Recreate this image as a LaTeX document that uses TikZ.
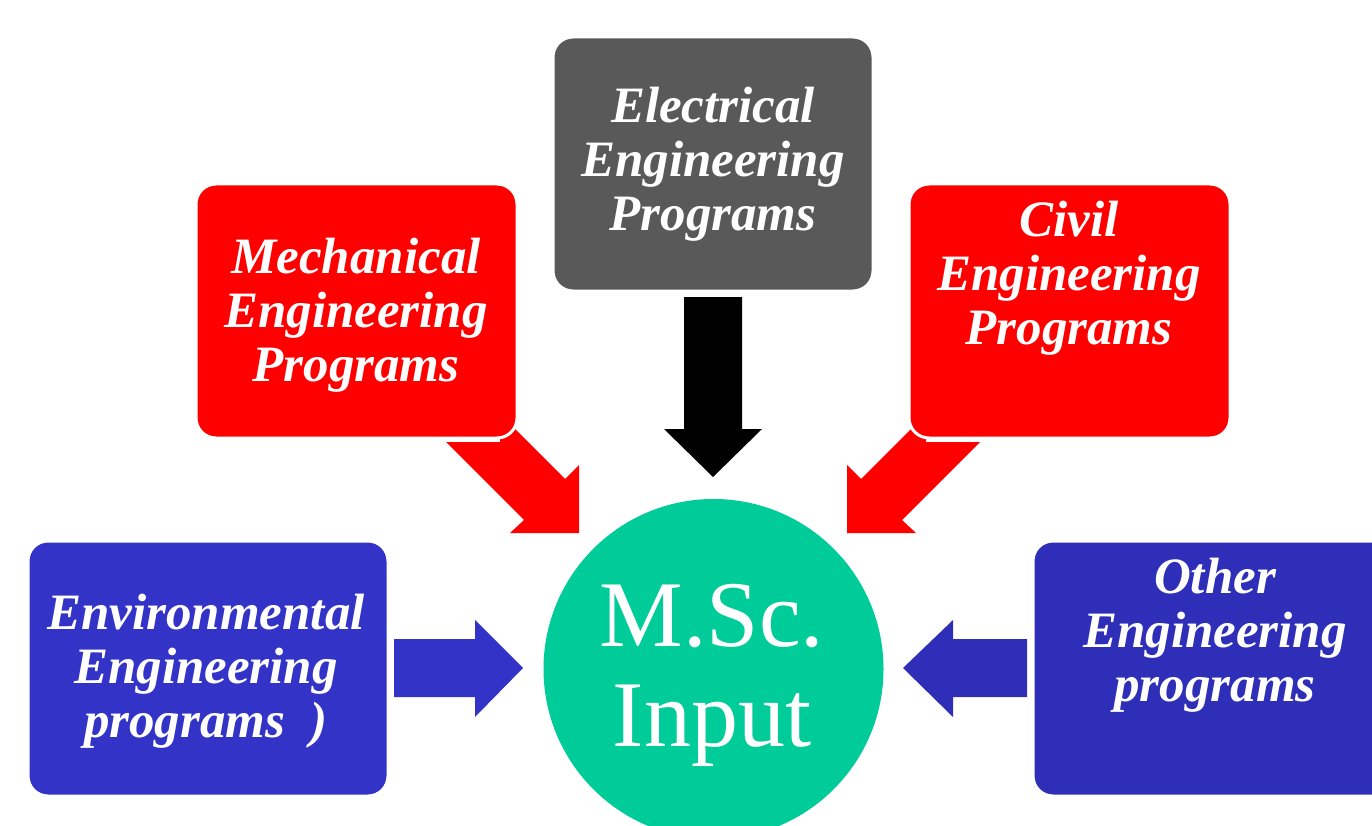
\documentclass[tikz,border=0pt]{standalone}
\usepackage{fontspec}
\setmainfont{Liberation Serif}
\definecolor{progred}{RGB}{255,0,0}
\definecolor{proggray}{RGB}{89,89,89}
\definecolor{progblue}{RGB}{52,51,200}
\definecolor{progblueB}{RGB}{46,46,184}
\definecolor{inputgreen}{RGB}{0,204,153}
\tikzset{
  progbox/.style={rectangle, rounded corners=20pt, draw=white, line width=3pt,
    minimum height=254pt, inner sep=0pt},
  progtext/.style={text=white, align=center, inner sep=0pt,
    font=\fontsize{51}{54}\selectfont\bfseries\itshape}
}
\begin{document}
\begin{tikzpicture}[x=1pt,y=-1pt]
\useasboundingbox (0,0) rectangle (1372,826);

% block arrows pointing at the centre
\fill[black] (684,297) -- (742,297) -- (742,429) -- (762,429) -- (713,477)
  -- (664,429) -- (684,429) -- cycle;
\fill[progred] (446,442) -- (500,442) -- (500,414) -- (565,479) -- (579,465)
  -- (579,533) -- (510,533) -- (524,520) -- cycle;
\fill[progred] (980,442) -- (926,442) -- (926,414) -- (861,479) -- (847,465)
  -- (847,533) -- (916,533) -- (902,520) -- cycle;
\fill[progblue] (394,639) -- (475,639) -- (475,620) -- (523,668) -- (475,717)
  -- (475,697) -- (394,697) -- cycle;
\fill[progblueB] (1027,639) -- (953,639) -- (953,620) -- (903,668) -- (953,717)
  -- (953,697) -- (1027,697) -- cycle;

% programme boxes
\node[progbox, fill=proggray, minimum width=320pt] (elec) at (713,164) {};
\node[progbox, fill=progred, minimum width=321pt] (mech) at (356.5,311) {};
\node[progbox, fill=progred, minimum width=321pt] (civil) at (1069.5,311) {};
\node[progbox, fill=progblue, minimum width=360pt, minimum height=255pt] (env) at (208,668.5) {};
\node[progbox, fill=progblueB, minimum width=360pt, minimum height=255pt] (other) at (1213,668.5) {};

% central circle
\node[circle, fill=inputgreen, minimum size=340pt, inner sep=0pt] (msc) at (713.5,669) {};

% labels
\node[progtext] (elecT) at (713,164) {Electrical\\Engineering\\Programs};
\node[progtext] (mechT) at (356,315) {Mechanical\\Engineering\\Programs};
\node[progtext] (civilT) at (1069,278) {Civil\\Engineering\\Programs};
\node[progtext] (envT) at (206,671) {Environmental\\Engineering\\programs\ \ )};
\node[progtext] (otherT) at (1215,635) {Other\\Engineering\\programs};
\node[text=white, align=center, inner sep=0pt, anchor=north,
  font=\fontsize{94}{100}\selectfont] (mscT) at (712,584) {M.Sc.\\Input};
\end{tikzpicture}
\end{document}
